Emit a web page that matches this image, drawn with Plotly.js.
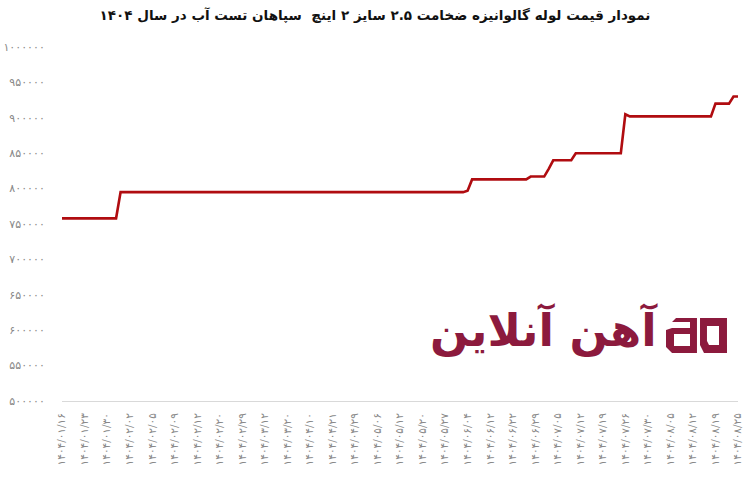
<!DOCTYPE html>
<html>
<head>
<meta charset="utf-8">
<script src="https://cdn.plot.ly/plotly-3.0.1.min.js"></script>
<style>html,body{margin:0;padding:0;background:#fff}#chart{width:750px;height:477px}</style>
</head>
<body>
<div id="chart"></div>
<script>
// Tick labels (Persian dates) shown on the x axis
const dateLabels = [
  "۱۴۰۴/۰۱/۱۶","۱۴۰۴/۰۱/۲۳","۱۴۰۴/۰۱/۳۰","۱۴۰۴/۰۲/۰۲","۱۴۰۴/۰۲/۰۵",
  "۱۴۰۴/۰۲/۰۹","۱۴۰۴/۰۲/۱۲","۱۴۰۴/۰۲/۲۰","۱۴۰۴/۰۲/۲۹","۱۴۰۴/۰۳/۱۲",
  "۱۴۰۴/۰۳/۲۰","۱۴۰۴/۰۴/۱۰","۱۴۰۴/۰۴/۲۱","۱۴۰۴/۰۴/۲۹","۱۴۰۴/۰۵/۰۶",
  "۱۴۰۴/۰۵/۱۲","۱۴۰۴/۰۵/۲۰","۱۴۰۴/۰۵/۲۷","۱۴۰۴/۰۶/۰۴","۱۴۰۴/۰۶/۱۲",
  "۱۴۰۴/۰۶/۲۲","۱۴۰۴/۰۶/۲۹","۱۴۰۴/۰۷/۰۵","۱۴۰۴/۰۷/۱۲","۱۴۰۴/۰۷/۱۹",
  "۱۴۰۴/۰۷/۲۶","۱۴۰۴/۰۷/۳۰","۱۴۰۴/۰۸/۰۵","۱۴۰۴/۰۸/۱۲","۱۴۰۴/۰۸/۱۹",
  "۱۴۰۴/۰۸/۲۵"
];
// Position (record number) of each labelled date in the price series
const labelIndex = [0,5,10,15,20,25,30,35,40,45,50,55,60,65,70,75,80,85,90,95,
  100,105,110,115,120,125,130,135,140,145,150];

// Price per record (Rial)
const prices = [
  758000,758000,758000,758000,758000,758000,758000,758000,758000,758000,
  758000,758000,758000,795000,795000,795000,795000,795000,795000,795000,
  795000,795000,795000,795000,795000,795000,795000,795000,795000,795000,
  795000,795000,795000,795000,795000,795000,795000,795000,795000,795000,
  795000,795000,795000,795000,795000,795000,795000,795000,795000,795000,
  795000,795000,795000,795000,795000,795000,795000,795000,795000,795000,
  795000,795000,795000,795000,795000,795000,795000,795000,795000,795000,
  795000,795000,795000,795000,795000,795000,795000,795000,795000,795000,
  795000,795000,795000,795000,795000,795000,795000,795000,795000,795000,
  797000,813000,813000,813000,813000,813000,813000,813000,813000,813000,
  813000,813000,813000,813000,817000,817000,817000,817000,828000,840000,
  840000,840000,840000,840000,850000,850000,850000,850000,850000,850000,
  850000,850000,850000,850000,850000,905000,902000,902000,902000,902000,
  902000,902000,902000,902000,902000,902000,902000,902000,902000,902000,
  902000,902000,902000,902000,902000,920000,920000,920000,920000,930000,
  930000
];

// Y axis ticks
const yTickValues = [500000,550000,600000,650000,700000,750000,800000,850000,900000,950000,1000000];
const yTickText = ["۵۰۰۰۰۰","۵۵۰۰۰۰","۶۰۰۰۰۰","۶۵۰۰۰۰","۷۰۰۰۰۰","۷۵۰۰۰۰","۸۰۰۰۰۰","۸۵۰۰۰۰","۹۰۰۰۰۰","۹۵۰۰۰۰","۱۰۰۰۰۰۰"];

const titleText = "نمودار قیمت لوله گالوانیزه ضخامت ۲.۵ سایز ۲ اینچ  سپاهان تست آب در سال ۱۴۰۴";
const logoText = "آهن آنلاین";

const recordNo = prices.map((_, i) => i);

// plot-area geometry used only to place the decorative logo
const L = 62, T = 47, W = 676, H = 354;
const px = x => (x - L) / W;
const py = y => (T + H - y) / H;
const logoColor = "#8c1a3d";
function pathPx(pts) {
  return "M" + pts.map(p => px(p[0]).toFixed(4) + "," + py(p[1]).toFixed(4)).join(" L") + " Z";
}

const trace = {
  x: recordNo,
  y: prices,
  type: "scatter",
  mode: "lines",
  line: {color: "#b00c10", width: 2.6},
  hoverinfo: "skip"
};

const layout = {
  width: 750, height: 477,
  margin: {l: L, r: 750 - L - W, t: T, b: 477 - T - H, pad: 0},
  paper_bgcolor: "#fff", plot_bgcolor: "#fff",
  showlegend: false,
  font: {family: "DejaVu Sans, sans-serif", color: "#888"},
  title: {
    text: titleText,
    font: {family: "DejaVu Sans, sans-serif", size: 13.5, color: "#111", weight: 700},
    xref: "container", x: 0.5, xanchor: "center",
    yref: "container", y: 1 - 15/477, yanchor: "middle"
  },
  xaxis: {
    range: [0, 150],
    tickmode: "array", tickvals: labelIndex, ticktext: dateLabels,
    tickangle: -90,
    tickfont: {size: 10.5, color: "#888"},
    showgrid: false, zeroline: false,
    showline: true, linecolor: "#d9d9d9", linewidth: 1,
    ticks: "outside", ticklen: 7, tickcolor: "rgba(0,0,0,0)",
    fixedrange: true
  },
  yaxis: {
    range: [500000, 1000000],
    tickmode: "array", tickvals: yTickValues, ticktext: yTickText,
    tickfont: {size: 11, color: "#888"},
    showgrid: false, zeroline: false, showline: false,
    ticks: "outside", ticklen: 14, tickcolor: "rgba(0,0,0,0)",
    fixedrange: true
  },
  annotations: [{
    text: logoText,
    xref: "paper", yref: "paper",
    x: px(660), y: py(330), xanchor: "right", yanchor: "middle",
    showarrow: false,
    font: {family: "DejaVu Sans, sans-serif", size: 45, color: logoColor, weight: 700}
  }],
  shapes: [
    // "a" part of the logo mark
    {type: "path", xref: "paper", yref: "paper", fillcolor: logoColor, line: {width: 0},
     path: pathPx([[676,318],[697,318],[697,353],[672,353],[666,347],[666,330],[672,328],[690,328],[690,322],[672,322]])},
    {type: "path", xref: "paper", yref: "paper", fillcolor: "#fff", line: {width: 0},
     path: pathPx([[674,334],[690,334],[690,346],[674,346]])},
    // "D" part of the logo mark
    {type: "path", xref: "paper", yref: "paper", fillcolor: logoColor, line: {width: 0},
     path: pathPx([[700,318],[727,318],[727,353],[704,353],[700,345]])},
    {type: "path", xref: "paper", yref: "paper", fillcolor: "#fff", line: {width: 0},
     path: pathPx([[707,326],[719,326],[719,345],[709,345],[707,341]])}
  ]
};

Plotly.newPlot("chart", [trace], layout, {displayModeBar: false, staticPlot: true});
</script>
</body>
</html>
